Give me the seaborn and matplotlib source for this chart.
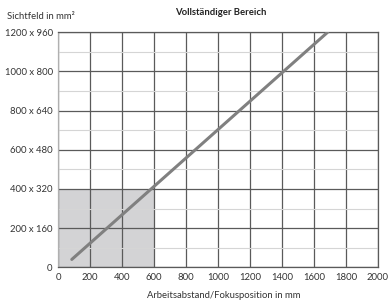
import matplotlib
matplotlib.use("Agg")
import matplotlib.pyplot as plt
import seaborn as sns
import pandas as pd
from matplotlib.ticker import MultipleLocator

# Data
distance_mm = [85, 1685]          # Arbeitsabstand / Fokusposition
field_width = [40, 1200]          # Sichtfeld (Breite)
x_ticks = [0, 200, 400, 600, 800, 1000, 1200, 1400, 1600, 1800, 2000]
y_ticks = [0, 200, 400, 600, 800, 1000, 1200]
y_tick_labels = ["0", "200 x 160", "400 x 320", "600 x 480", "800 x 640",
                 "1000 x 800", "1200 x 960"]
shade_x = [0, 600]
shade_y = [400, 400]

sns.set_theme(style="white")
plt.rcParams["font.family"] = ["Lato", "DejaVu Sans"]

fig = plt.figure(figsize=(3.88, 3.02), dpi=100)
ax = fig.add_axes([0.150, 0.115, 0.824, 0.778])

df = pd.DataFrame({"x": distance_mm, "y": field_width})

ax.fill_between(shade_x, 0, shade_y, color="#d3d3d5", zorder=0, linewidth=0)

ax.set_xlim(0, 2000)
ax.set_ylim(0, 1200)
ax.set_xticks(x_ticks)
ax.set_yticks(y_ticks)
ax.set_yticklabels(y_tick_labels)
ax.yaxis.set_minor_locator(MultipleLocator(100))

ax.grid(which="major", axis="both", color="#5a5a5a", linewidth=0.9, zorder=1)
ax.grid(which="minor", axis="y", color="#d5d5d5", linewidth=0.8, zorder=1)
ax.set_axisbelow(True)

sns.lineplot(data=df, x="x", y="y", ax=ax, color="#808080", linewidth=2.2, zorder=3)

for s in ["top", "right", "bottom"]:
    ax.spines[s].set_color("#5a5a5a")
    ax.spines[s].set_linewidth(0.9)
ax.spines["left"].set_color("#b0b0b0")
ax.spines["left"].set_linewidth(0.9)

ax.tick_params(axis="both", which="both", length=0, labelsize=6.8, labelcolor="#333333")
ax.tick_params(axis="x", pad=4)
ax.tick_params(axis="y", pad=4)

ax.set_xlabel("")
ax.set_ylabel("")

fig.text(0.018, 0.947, "Sichtfeld in mm²", fontsize=6.8, color="#333333", va="center", ha="left")
fig.text(0.57, 0.957, "Vollständiger Bereich", fontsize=6.8, color="#222222",
         fontweight="bold", va="center", ha="center")
fig.text(0.577, 0.02, "Arbeitsabstand/Fokusposition in mm", fontsize=6.8,
         color="#333333", va="center", ha="center")

fig.savefig("out.png", dpi=100)
